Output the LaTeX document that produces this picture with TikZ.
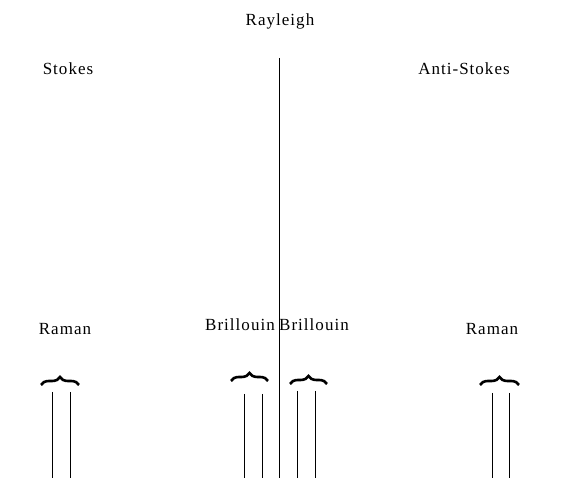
\documentclass[tikz,border=0pt]{standalone}
\usepackage{fontspec}
\setmainfont{Liberation Serif}[LetterSpace=6]
\usetikzlibrary{decorations.pathreplacing}
\tikzset{
  lbl/.style={font=\fontsize{17}{19}\selectfont},
  peak/.style={line width=0.9pt},
  grp/.style={line width=2.6pt,decorate,decoration={brace,amplitude=8pt}}
}
\begin{document}
\begin{tikzpicture}[x=1pt,y=-1pt]
  \useasboundingbox (0,0) rectangle (563,478);
  % labels
  \node[lbl] (ray) at (280,21) {Rayleigh};
  \node[lbl] (sto) at (68,69) {Stokes};
  \node[lbl] (ast) at (464,69) {Anti-Stokes};
  \node[lbl] (ramL) at (65,329) {Raman};
  \node[lbl] (briL) at (240,325) {Brillouin};
  \node[lbl] (briR) at (314,325) {Brillouin};
  \node[lbl] (ramR) at (492,329) {Raman};
  % Rayleigh line
  \coordinate (R0) at (279,58);
  \coordinate (R1) at (279,478);
  \draw[peak] (R0) -- (R1);
  % side lines
  \foreach \x/\t in {52/392,70/392,244/394,262/394,297/391,315/391,492/393,509/393} {
    \coordinate (a\x) at (\x,\t);
    \coordinate (b\x) at (\x,478);
    \draw[peak] (a\x) -- (b\x);
  }
  % braces
  \foreach \l/\r/\y in {41/79/385,231/268/381,290/327/384,480/519/385} {
    \coordinate (s\l) at (\l,\y);
    \coordinate (e\l) at (\r,\y);
    \draw[grp] (s\l) -- (e\l);
  }
\end{tikzpicture}
\end{document}
